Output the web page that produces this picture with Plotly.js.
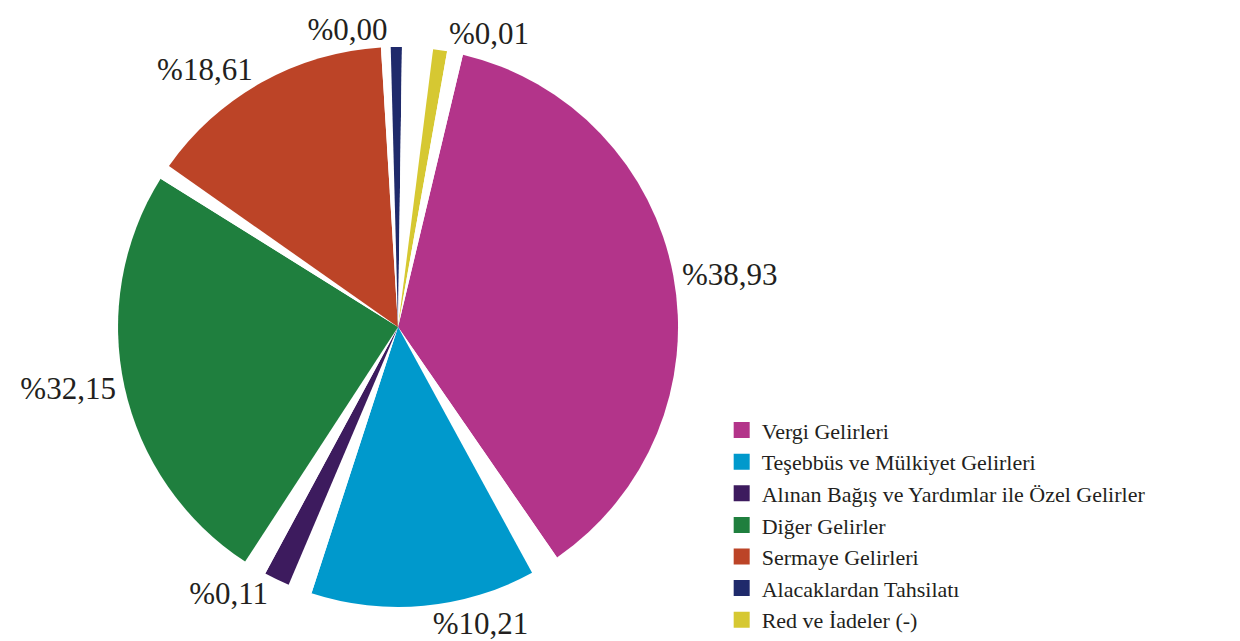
<!DOCTYPE html>
<html>
<head>
<meta charset="utf-8">
<script src="https://cdn.plot.ly/plotly-3.0.1.min.js"></script>
<style>
  html, body { margin: 0; padding: 0; background: #fff; }
  #chart { width: 1240px; height: 641px; }
</style>
</head>
<body>
<div id="chart"></div>
<script>
// Income categories (legend order, clockwise from the top)
const categories = [
  'Vergi Gelirleri',
  'Teşebbüs ve Mülkiyet Gelirleri',
  'Alınan Bağış ve Yardımlar ile Özel Gelirler',
  'Diğer Gelirler',
  'Sermaye Gelirleri',
  'Alacaklardan Tahsilatı',
  'Red ve İadeler (-)'
];

// Printed percentage labels
const shareLabels = ['%38,93', '%10,21', '%0,11', '%32,15', '%18,61', '%0,00', '%0,01'];

// Slice sizes as drawn in the picture (degrees of arc)
const sliceSizes = [132, 46.6, 5.3, 88.9, 51.4, 2.3, 2.9];

const colors = ['#b3348a', '#0099cc', '#3d1b5e', '#1f7f3e', '#bc4427', '#1f2a6b', '#d6c832'];

// white wedge after each slice (degrees)
const gapSizes = [6, 5, 4.8, 3.1, 2.0, 6.4, 3.3];
const textColor = '#231f20';
const serif = 'Liberation Serif, Times New Roman, serif';

// interleave slices with white gaps
let values = [], sliceColors = [], texts = [], labels = [];
sliceSizes.forEach((v, i) => {
  values.push(v, gapSizes[i]);
  sliceColors.push(colors[i], '#ffffff');
  texts.push(shareLabels[i], '');
  labels.push(categories[i], 'gap' + i);
});

const pie = {
  type: 'pie',
  values: values,
  labels: labels,
  text: texts,
  textinfo: 'text',
  textposition: 'outside',
  outsidetextfont: { family: serif, size: 31, color: textColor },
  marker: { colors: sliceColors, line: { width: 0 } },
  sort: false,
  direction: 'clockwise',
  rotation: 13.4,
  hoverinfo: 'skip',
  showlegend: false,
  domain: { x: [0.0952, 0.5468], y: [0, 1] }
};

// legend entries
const legendTraces = categories.map((name, i) => ({
  type: 'scatter',
  mode: 'markers',
  x: [null],
  y: [null],
  name: name,
  marker: { symbol: 'square', size: 16, color: colors[i] },
  hoverinfo: 'skip'
}));

const layout = {
  width: 1240,
  height: 641,
  margin: { l: 0, r: 0, t: 47, b: 34, autoexpand: false },
  paper_bgcolor: '#ffffff',
  plot_bgcolor: 'rgba(0,0,0,0)',
  xaxis: { visible: false },
  yaxis: { visible: false },
  showlegend: true,
  legend: {
    x: 0.582,
    y: 0.353,
    xanchor: 'left',
    yanchor: 'top',
    font: { family: serif, size: 22, color: textColor },
    tracegroupgap: 0,
    bgcolor: 'rgba(0,0,0,0)'
  }
};

Plotly.newPlot('chart', [pie].concat(legendTraces), layout, { displayModeBar: false, staticPlot: true });
</script>
</body>
</html>
